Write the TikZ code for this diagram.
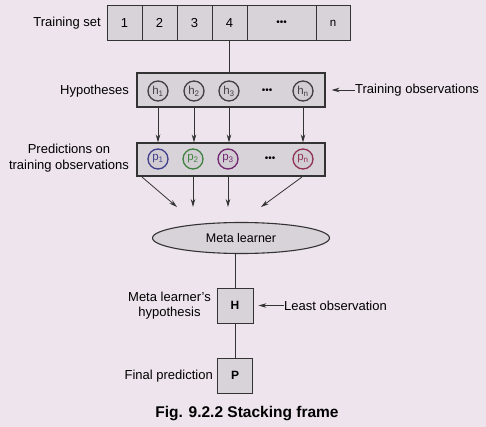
\documentclass[tikz,border=0pt]{standalone}
\usepackage{fontspec}
\setmainfont{Liberation Sans}
\usetikzlibrary{shapes.geometric,arrows.meta,calc}
\definecolor{bg}{HTML}{EEE4EE}
\definecolor{boxfill}{HTML}{D8D2D9}
\definecolor{circfill}{HTML}{D2CDD3}
\definecolor{linec}{HTML}{333333}
\begin{document}
\begin{tikzpicture}[x=1pt,y=-1pt,
  font=\fontsize{13}{15.5}\selectfont,
  cell/.style={draw=linec,fill=boxfill,line width=0.9pt,minimum height=35pt,inner sep=0pt},
  band/.style={draw=linec,fill=boxfill,line width=1.1pt,inner sep=0pt},
  circ/.style={circle,draw=#1,line width=1.3pt,fill=circfill,minimum size=20pt,inner sep=0pt,font=\fontsize{11.5}{11.5}\selectfont,text=#1},
  dots/.style={font=\fontsize{10}{10}\selectfont,inner sep=0pt},
  arr/.style={draw=linec,line width=0.8pt,-{Stealth[length=8pt,width=4.5pt]}},
  ln/.style={draw=linec,line width=0.8pt},
  lbl/.style={inner sep=0pt}]
\fill[bg] (0,0) rectangle (486,427);
\useasboundingbox (0,0) rectangle (486,427);

% training set
\node[lbl,anchor=east] (tsl) at (101,23) {Training set};
\node[cell,minimum width=35pt] (c1) at (124.5,23) {1};
\node[cell,minimum width=35pt] (c2) at (159.5,23) {2};
\node[cell,minimum width=35pt] (c3) at (194.5,23) {3};
\node[cell,minimum width=35pt] (c4) at (229.5,23) {4};
\node[cell,minimum width=69pt,font=\fontsize{10}{10}\selectfont] (c5) at (281.5,23) {•••};
\node[cell,minimum width=34pt,font=\fontsize{11.5}{11.5}\selectfont] (c6) at (333,23) {n};

% hypotheses
\node[band,minimum width=188pt,minimum height=34pt] (hbox) at (231,90) {};
\node[lbl,anchor=east] (hl) at (129,91) {Hypotheses};
\node[circ=black!75] (h1) at (158,91) {h\textsubscript{1}};
\node[circ=black!75] (h2) at (194,91) {h\textsubscript{2}};
\node[circ=black!75] (h3) at (229,91) {h\textsubscript{3}};
\node[dots] (hd) at (267,91) {•••};
\node[circ=black!75] (hn) at (303,91) {h\textsubscript{n}};
\node[lbl,anchor=west] (tobs) at (355,90) {Training observations};

% predictions
\node[band,minimum width=188pt,minimum height=33pt] (pbox) at (231,159.5) {};
\node[lbl,align=center] (pl) at (69,158) {Predictions on\\training observations};
\node[circ={blue!40!black!75}] (p1) at (158,159) {p\textsubscript{1}};
\node[circ={green!35!black!75}] (p2) at (193,159) {p\textsubscript{2}};
\node[circ={violet!70!black!85}] (p3) at (228,159) {p\textsubscript{3}};
\node[dots] (pd) at (270,159) {•••};
\node[circ={purple!60!black!80}] (pn) at (303,159) {p\textsubscript{n}};

% meta learner
\node[ellipse,draw=linec,line width=1.1pt,fill=boxfill,minimum width=177pt,minimum height=31pt,inner sep=0pt,font=\fontsize{12.5}{14}\selectfont] (ml) at (241,238) {Meta learner};

% H and P
\node[cell,minimum width=36pt,font=\fontsize{12}{12}\selectfont\bfseries] (H) at (235,305.5) {H};
\node[lbl,align=center,anchor=east] (hyl) at (211,305.5) {Meta learner's\\hypothesis};
\node[lbl,anchor=west] (lo) at (284,305.5) {Least observation};
\node[cell,minimum width=35pt,font=\fontsize{12}{12}\selectfont\bfseries] (P) at (235,375.5) {P};
\node[lbl,anchor=east] (fp) at (213,376) {Final prediction};

\node[lbl,font=\bfseries\fontsize{15.5}{18}\selectfont] (cap) at (247,414) {Fig. 9.2.2 Stacking frame};

% connectors
\draw[ln] (c4.south) -- (c4.south |- hbox.north);
\foreach \n in {h1,h2,h3,hn}
  \draw[arr] (\n |- hbox.south) -- (\n |- pbox.north);
\draw[arr,shorten >=6pt] (tobs.west) -- (hbox.east);

\coordinate (s1) at (142,177);
\coordinate (e1) at (177,207);
\coordinate (s2) at (193,177);
\coordinate (e2) at (193,207);
\coordinate (s3) at (228,177);
\coordinate (e3) at (228,207);
\coordinate (s4) at (302,177);
\coordinate (e4) at (261,207);
\draw[arr] (s1) -- (e1);
\draw[arr] (s2) -- (e2);
\draw[arr] (s3) -- (e3);
\draw[arr] (s4) -- (e4);

\draw[ln] (H.north |- ml.south) -- (H.north);
\draw[ln] (H.south) -- (P.north);
\draw[arr,shorten >=5pt] (lo.west) -- (H.east);
\end{tikzpicture}
\end{document}
